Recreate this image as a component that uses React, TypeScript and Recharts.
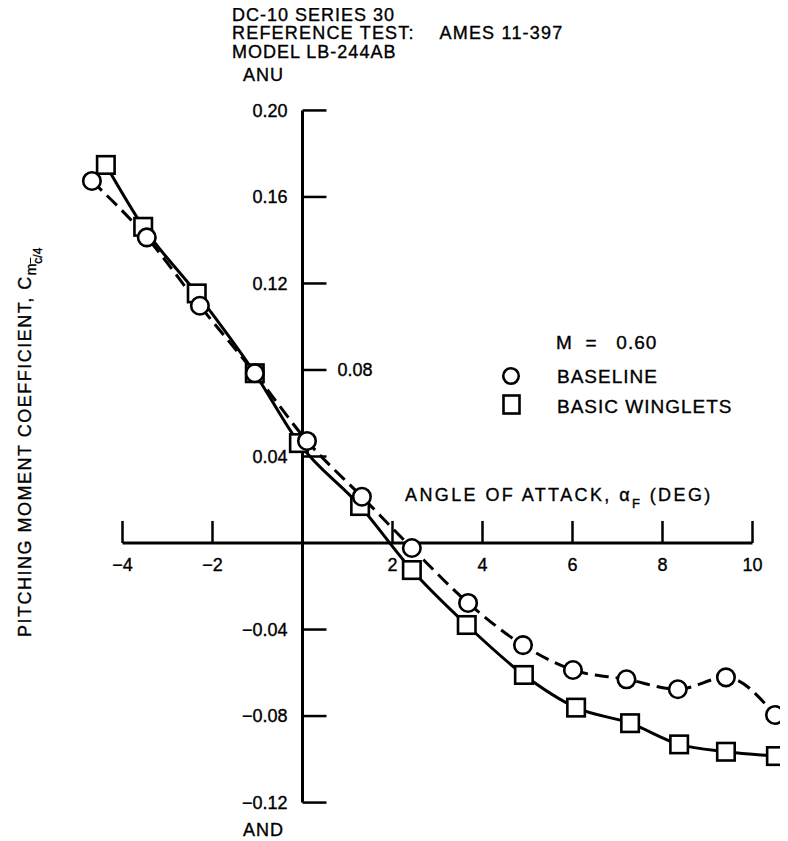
import React from 'react';
import { LineChart, Line, XAxis, YAxis, ReferenceLine } from 'recharts';

// Angle of attack (deg) and pitching moment coefficient
const baselineAlpha = [-4.68, -3.46, -2.28, -1.06, 0.1, 1.32, 2.43, 3.68, 4.9, 6.01, 7.2, 8.34, 9.41, 10.5];
const baselineCm = [0.1674, 0.1413, 0.1097, 0.0785, 0.0472, 0.0214, -0.0023, -0.0277, -0.0472, -0.0587, -0.063, -0.0676, -0.0621, -0.0795];
const wingletAlpha = [-4.37, -3.54, -2.35, -1.06, -0.08, 1.28, 2.43, 3.65, 4.92, 6.08, 7.28, 8.37, 9.41, 10.52];
const wingletCm = [0.1748, 0.1462, 0.1154, 0.0785, 0.0462, 0.0171, -0.0125, -0.0379, -0.061, -0.0761, -0.0833, -0.0931, -0.0965, -0.0985];

const xTickValues = [-4, -2, 2, 4, 6, 8, 10];
const xTickLabels = ['\u22124', '\u22122', '2', '4', '6', '8', '10'];
const yTickValues = [0.2, 0.16, 0.12, 0.08, 0.04, -0.04, -0.08, -0.12];
const yTickLabels = ['0.20', '0.16', '0.12', '0.08', '0.04', '\u22120.04', '\u22120.08', '\u22120.12'];
const yRightLabelValue = 0.08;

const titleLines = ['DC-10 SERIES 30', 'REFERENCE TEST:\u00a0\u00a0\u00a0\u00a0AMES 11-397', 'MODEL LB-244AB'];

const baselineData = baselineAlpha.map((x, i) => ({ x, y: baselineCm[i] }));
const wingletData = wingletAlpha.map((x, i) => ({ x, y: wingletCm[i] }));

const X_DOMAIN: [number, number] = [-5, 10.7];
const Y_DOMAIN: [number, number] = [-0.13, 0.21];
const X_AXIS_END: [number, number] = [-4, 10];
const Y_AXIS_END: [number, number] = [-0.12, 0.2];
const X_TICK_LEN = 0.0102;
const Y_TICK_LEN = 0.533;

const CircleDot = (props: any) => {
  const { cx, cy, index } = props;
  if (cx == null || cy == null) return <g key={`cb${index}`} />;
  return <circle key={`c${index}`} cx={cx} cy={cy} r={8.75} fill="#fff" stroke="#000" strokeWidth={2.6} />;
};

const SquareDot = (props: any) => {
  const { cx, cy, index } = props;
  if (cx == null || cy == null) return <g key={`sb${index}`} />;
  const s = 17.5;
  return <rect key={`s${index}`} x={cx - s / 2} y={cy - s / 2} width={s} height={s} fill="#fff" stroke="#000" strokeWidth={2.6} />;
};

const FONT = '"Liberation Sans", Arial, Helvetica, sans-serif';

const txt = (fs: number, ls: number): React.CSSProperties => ({
  position: 'absolute',
  fontSize: fs,
  lineHeight: `${fs * 1.15}px`,
  letterSpacing: ls,
  whiteSpace: 'nowrap',
  color: '#000',
  WebkitTextStroke: '0.35px #000',
});

const labelStyle = { fontSize: 18, fill: '#000', fontFamily: FONT, stroke: '#000', strokeWidth: 0.35 };

export default function App() {
  return (
    <div style={{ position: 'relative', width: 780, height: 833, fontFamily: FONT, background: '#fff' }}>
      <LineChart
        width={780}
        height={833}
        margin={{ top: 80.8, right: 4, bottom: 16.8, left: 69.5 }}
      >
        <XAxis type="number" dataKey="x" domain={X_DOMAIN} hide />
        <YAxis type="number" dataKey="y" domain={Y_DOMAIN} hide />

        <ReferenceLine
          segment={[{ x: X_AXIS_END[0], y: 0 }, { x: X_AXIS_END[1], y: 0 }]}
          stroke="#000"
          strokeWidth={3}
        />
        <ReferenceLine
          segment={[{ x: 0, y: Y_AXIS_END[0] }, { x: 0, y: Y_AXIS_END[1] }]}
          stroke="#000"
          strokeWidth={3}
        />
        {xTickValues.map((t, i) => (
          <ReferenceLine
            key={`xt${i}`}
            segment={[{ x: t, y: 0 }, { x: t, y: X_TICK_LEN }]}
            stroke="#000"
            strokeWidth={2.5}
            label={{
              value: xTickLabels[i],
              position: 'bottom',
              offset: 15,
              ...labelStyle,
            }}
          />
        ))}
        {yTickValues.map((t, i) => (
          <ReferenceLine
            key={`yt${i}`}
            segment={[{ x: 0, y: t }, { x: Y_TICK_LEN, y: t }]}
            stroke="#000"
            strokeWidth={2.5}
            label={
              t === yRightLabelValue
                ? { value: yTickLabels[i], position: 'right', offset: 11, ...labelStyle }
                : { value: yTickLabels[i], position: 'left', offset: 15, ...labelStyle }
            }
          />
        ))}

        <Line
          data={wingletData}
          dataKey="y"
          type="monotone"
          stroke="#000"
          strokeWidth={3}
          dot={SquareDot}
          activeDot={false}
          isAnimationActive={false}
        />
        <Line
          data={baselineData}
          dataKey="y"
          type="monotone"
          stroke="#000"
          strokeWidth={3}
          strokeDasharray="14 7"
          dot={CircleDot}
          activeDot={false}
          isAnimationActive={false}
        />
      </LineChart>

      {/* Title block */}
      <div style={{ ...txt(18, 1), left: 224, top: -3.1 }}>{titleLines[0]}</div>
      <div style={{ ...txt(18, 1.2), left: 224, top: 15.2 }}>{titleLines[1]}</div>
      <div style={{ ...txt(18, 1), left: 224, top: 33.6 }}>{titleLines[2]}</div>
      <div style={{ ...txt(18, 1), left: 235, top: 56.9 }}>ANU</div>
      <div style={{ ...txt(18, 1), left: 235, top: 811.9 }}>AND</div>

      {/* X axis title */}
      <div style={{ ...txt(18, 2.4), left: 397, top: 476.9 }}>
        ANGLE OF ATTACK,&nbsp;
        <span>{'\u03b1'}</span>
        <span style={{ fontSize: 13, position: 'relative', top: 7 }}>F</span>
        &nbsp;(DEG)
      </div>

      {/* Y axis title */}
      <div
        style={{
          position: 'absolute',
          left: 17 - 230,
          top: 399 - 12,
          width: 460,
          height: 24,
          lineHeight: '24px',
          fontSize: 18,
          letterSpacing: 1.5,
          whiteSpace: 'nowrap',
          transform: 'rotate(-90deg)',
          transformOrigin: 'center center',
          color: '#000',
          WebkitTextStroke: '0.35px #000',
        }}
      >
        PITCHING MOMENT COEFFICIENT, C
        <span style={{ fontSize: 14, position: 'relative', top: 5, letterSpacing: 0 }}>m</span>
        <span style={{ fontSize: 12, position: 'relative', top: 11, letterSpacing: 0 }}>
          <span style={{ textDecoration: 'overline' }}>c</span>/4
        </span>
      </div>

      {/* Legend */}
      <div style={{ ...txt(19, 1), left: 548, top: 324 }}>M&nbsp;&nbsp;=&nbsp;&nbsp;&nbsp;0.60</div>
      <svg style={{ position: 'absolute', left: 490, top: 355 }} width={30} height={55}>
        <circle cx={13} cy={13} r={7.75} fill="#fff" stroke="#000" strokeWidth={2.6} />
        <rect x={13.5 - 8} y={41.5 - 9} width={16} height={18} fill="#fff" stroke="#000" strokeWidth={2.6} />
      </svg>
      <div style={{ ...txt(19, 1), left: 549, top: 358 }}>BASELINE</div>
      <div style={{ ...txt(19, 1), left: 549, top: 388 }}>BASIC WINGLETS</div>
    </div>
  );
}
